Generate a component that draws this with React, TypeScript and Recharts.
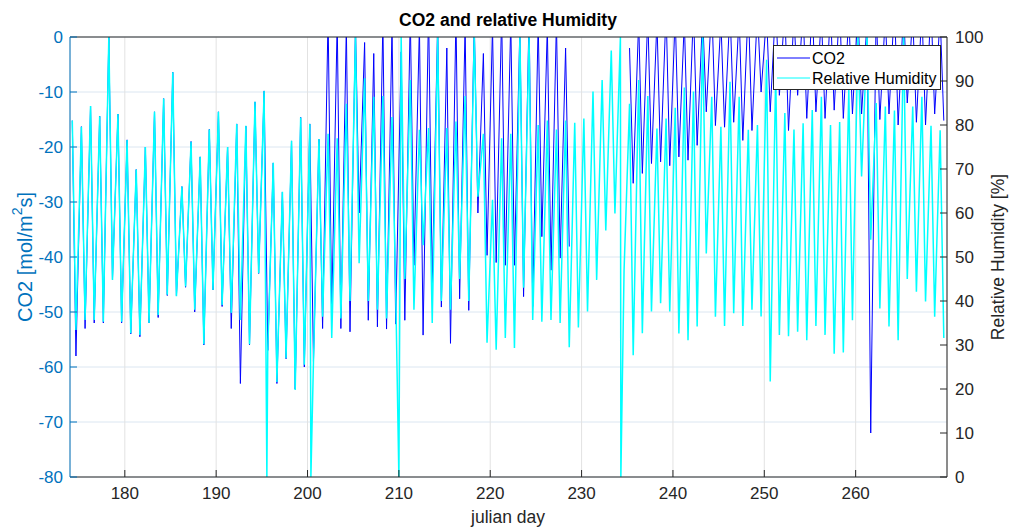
import React from 'react';
import { LineChart, Line, XAxis, YAxis, CartesianGrid } from 'recharts';

// Julian days covered by the record
const julianDays = [
  174, 175, 176, 177, 178, 179, 180, 181, 182, 183,
  184, 185, 186, 187, 188, 189, 190, 191, 192, 193,
  194, 195, 196, 197, 198, 199, 200, 201, 202, 203,
  204, 205, 206, 207, 208, 209, 210, 211, 212, 213,
  214, 215, 216, 217, 218, 219, 220, 221, 222, 223,
  224, 225, 226, 227, 228, 229, 230, 231, 232, 233,
  234, 235, 236, 237, 238, 239, 240, 241, 242, 243,
  244, 245, 246, 247, 248, 249, 250, 251, 252, 253,
  254, 255, 256, 257, 258, 259, 260, 261, 262, 263,
  264, 265, 266, 267, 268, 269,
];

// Relative humidity [%]: night-time maximum of each day
const rhNight = [
  81, 79.6, 84.3, 82, 100, 82.5, 76.6, 69.9, 75, 83,
  86, 92, 66, 76.2, 72.8, 79, 83, 75, 80.2, 79.8,
  85.3, 87.7, 71.4, 64.8, 76.4, 81.7, 80.2, 76.8, 78, 77,
  84.8, 100, 90.6, 86.4, 86.6, 81.8, 100, 90.2, 78.9, 79.3,
  100, 79.3, 80.8, 86.6, 100, 78, 63, 77, 78, 100,
  100, 80, 81, 79, 81, 80.5, 81.5, 87.6, 90.2, 96.9,
  100, 84.8, 90.2, 86.6, 79.2, 81.5, 83.9, 88.5, 87.6, 100,
  86.4, 79.6, 89.8, 86.4, 78.9, 80, 94.8, 91.7, 82.7, 79,
  80.4, 83.4, 86.4, 80, 80.7, 88, 100, 100, 85, 84.2,
  83.3, 100, 84.2, 86.4, 79.8, 78.8,
];

// Relative humidity [%]: afternoon minimum of each day
const rhAfternoon = [
  33.4, 35.7, 35.7, 35.3, 44.8, 35.3, 32.7, 32.3, 35, 36.8,
  41.4, 41.1, 43.3, 38, 30.2, 42.5, 39.1, 37.3, 35.7, 30.2,
  46.3, 28.9, 21.6, 27, 19.8, 25.5, 26.2, 36.4, 31.6, 36,
  40, 48.6, 40, 38, 36, 42.7, 45, 38, 52.7, 35,
  40, 38, 45, 40, 63.7, 30.5, 28.9, 31.6, 29.3, 43,
  35.7, 35.3, 35.7, 35, 29.5, 34, 37.6, 44.8, 56, 59.9,
  47, 27.7, 32.7, 37.6, 39.5, 37.6, 32.6, 31.1, 34.2, 50.8,
  36.4, 34.3, 37.2, 34.3, 38, 36.5, 21.7, 32.3, 32, 33,
  31.1, 34.3, 32.3, 28, 28.3, 35.6, 68.3, 53.9, 38.3, 34.2,
  31.1, 45, 42.1, 39.9, 36.4, 31.6,
];

// Sensor dropouts recorded as 0 % humidity
const rhDropoutDays = [195.55, 200.37, 210.0, 234.3];

// CO2 flux [mol/m^2 s]: night-time value of each day (null = no data)
const co2Night = [
  -15.2, -16.3, -12.6, -14.4, 0, -14, -18.7, -24.1, -20, -13.6,
  -11.2, -6.4, -27.2, -19, -21.8, -16.8, -13.6, -20, -15.8, -16.2,
  -11.8, -9.8, -22.9, -28.2, -18.9, -14.6, -15.8, -18.6, 4, 3,
  2, 2, -1, -3, 3, 2, -2.7, 4, 2, 5,
  3, -2, 4, 2, 3, -3, 2, 4, 3, 2,
  4, 3, 2, 3, -2, null, null, null, null, null,
  null, -2, 3, 4, 3, 5, 4, 3, 5, 4,
  6, 3, 5, 4, 6, 5, 4, 6, 5, 4,
  5, 6, 4, 5, 6, 4, 5, 3, 5, 4,
  6, 5, 4, 5, 6, 4,
];

// CO2 flux [mol/m^2 s]: afternoon uptake of each day (null = no data)
const co2Afternoon = [
  -58, -53, -52, -52, -44, -52, -54, -54.5, -52, -51,
  -47, -47, -45.5, -50, -56, -46, -49, -53, -63, -56,
  -43, -57, -63, -58.5, -64, -60, -59, -53, -50, -53,
  -53.6, -32, -51.5, -52.7, -53.1, -52.2, -51.5, -41.5, -54.2, -45,
  -49.1, -55.7, -47.6, -49.7, -32, -39.7, -41, -41.5, -41.5, -47.2,
  -49, -36.3, -42.4, -40.2, -38.1, null, null, null, null, null,
  null, -26.6, -24.8, -23, -22.7, -23.4, -21.8, -22.4, -19.7, -13.6,
  -16.1, -16.4, -15.5, -18.8, -17, -10, -13.6, -10.6, -17, -10.6,
  -14.8, -13.6, -14.8, -13.3, -14.8, -14, -14, -72, -15, -14,
  -16, -12, -15.5, -16, -14, -15.2,
];

const dayTicks = [180, 190, 200, 210, 220, 230, 240, 250, 260];
const co2Ticks = [-80, -70, -60, -50, -40, -30, -20, -10, 0];
const rhTicks = [0, 10, 20, 30, 40, 50, 60, 70, 80, 90, 100];

// Time of day (fraction of a day) of the night and afternoon samples
const NIGHT_TIME = 0.25;
const AFTERNOON_TIME = 0.65;

type RhPoint = { day: number; rh: number };
type Co2Point = { day: number; co2: number | null };

const rhSeries: RhPoint[] = [];
julianDays.forEach((d, i) => {
  rhSeries.push({ day: d + NIGHT_TIME, rh: rhNight[i] });
  rhSeries.push({ day: d + AFTERNOON_TIME, rh: rhAfternoon[i] });
});
rhDropoutDays.forEach((d) => rhSeries.push({ day: d, rh: 0 }));
rhSeries.sort((a, b) => a.day - b.day);

const co2Series: Co2Point[] = [];
julianDays.forEach((d, i) => {
  co2Series.push({ day: d + NIGHT_TIME, co2: co2Night[i] });
  co2Series.push({ day: d + AFTERNOON_TIME, co2: co2Afternoon[i] });
});

const FONT = '"Liberation Sans", Arial, Helvetica, sans-serif';
const AXIS_BLUE = '#0072BD';
const AXIS_DARK = '#262626';

export default function App() {
  return (
    <div
      style={{
        position: 'absolute',
        left: 0,
        top: 0,
        width: 1011,
        height: 530,
        background: '#ffffff',
        fontFamily: FONT,
      }}
    >
      <LineChart
        width={1011}
        height={530}
        margin={{ top: 36, right: 0, bottom: 0, left: 0 }}
      >
        <CartesianGrid
          xAxisId="bottom"
          yAxisId="left"
          vertical={false}
          stroke="#dbe6f1"
        />
        <CartesianGrid
          xAxisId="bottom"
          yAxisId="left"
          horizontal={false}
          stroke="#e2e2e2"
        />
        <XAxis
          xAxisId="bottom"
          dataKey="day"
          type="number"
          domain={[174, 270]}
          allowDataOverflow
          ticks={dayTicks}
          interval={0}
          height={53}
          stroke={AXIS_DARK}
          tickSize={-7}
          tickMargin={17}
          tick={{ fill: AXIS_DARK, fontSize: 17, fontFamily: FONT }}
        />
        <XAxis
          xAxisId="top"
          orientation="top"
          dataKey="day"
          type="number"
          domain={[174, 270]}
          allowDataOverflow
          ticks={dayTicks}
          interval={0}
          height={1}
          stroke={AXIS_DARK}
          tickSize={-7}
          tick={false}
        />
        <YAxis
          yAxisId="left"
          orientation="left"
          type="number"
          domain={[-80, 0]}
          allowDataOverflow
          ticks={co2Ticks}
          interval={0}
          width={70}
          stroke={AXIS_BLUE}
          tickSize={-7}
          tickMargin={14}
          tick={{ fill: AXIS_BLUE, fontSize: 17, fontFamily: FONT }}
        />
        <YAxis
          yAxisId="right"
          orientation="right"
          type="number"
          domain={[0, 100]}
          allowDataOverflow
          ticks={rhTicks}
          interval={0}
          width={64}
          stroke={AXIS_DARK}
          tickSize={-7}
          tickMargin={15}
          tick={{ fill: AXIS_DARK, fontSize: 17, fontFamily: FONT }}
        />
        <Line
          xAxisId="bottom"
          yAxisId="left"
          data={co2Series}
          dataKey="co2"
          type="linear"
          stroke="#0000ff"
          strokeWidth={1}
          dot={false}
          activeDot={false}
          isAnimationActive={false}
          name="CO2"
        />
        <Line
          xAxisId="bottom"
          yAxisId="right"
          data={rhSeries}
          dataKey="rh"
          type="linear"
          stroke="#00ffff"
          strokeWidth={1.5}
          dot={false}
          activeDot={false}
          isAnimationActive={false}
          name="Relative Humidity"
        />
      </LineChart>
      <svg
        width={1011}
        height={530}
        style={{ position: 'absolute', left: 0, top: 0, pointerEvents: 'none' }}
        fontFamily={FONT}
      >
        <text x={508} y={26} textAnchor="middle" fontWeight="bold" fontSize={17.5} fill="#000">
          CO2 and relative Humidity
        </text>
        <text x={508} y={523} textAnchor="middle" fontSize={17.5} fill={AXIS_DARK}>
          julian day
        </text>
        <text
          transform="translate(32,257) rotate(-90)"
          textAnchor="middle"
          fontSize={20}
          fill={AXIS_BLUE}
        >
          CO2 [mol/m
          <tspan dy={-10} fontSize={14}>2</tspan>
          <tspan dy={10}>s]</tspan>
        </text>
        <text
          transform="translate(1004,257) rotate(-90)"
          textAnchor="middle"
          fontSize={17.5}
          fill={AXIS_DARK}
        >
          Relative Humidity [%]
        </text>
        <g>
          <rect x={773.5} y={45.5} width={167} height={44} fill="#ffffff" stroke={AXIS_DARK} strokeWidth={1} />
          <line x1={777} y1={58} x2={810} y2={58} stroke="#0000ff" strokeWidth={1} />
          <text x={812} y={64} fontSize={16} fill="#000">CO2</text>
          <line x1={777} y1={78} x2={810} y2={78} stroke="#00ffff" strokeWidth={1} />
          <text x={812} y={84} fontSize={16} fill="#000">Relative Humidity</text>
        </g>
      </svg>
    </div>
  );
}
